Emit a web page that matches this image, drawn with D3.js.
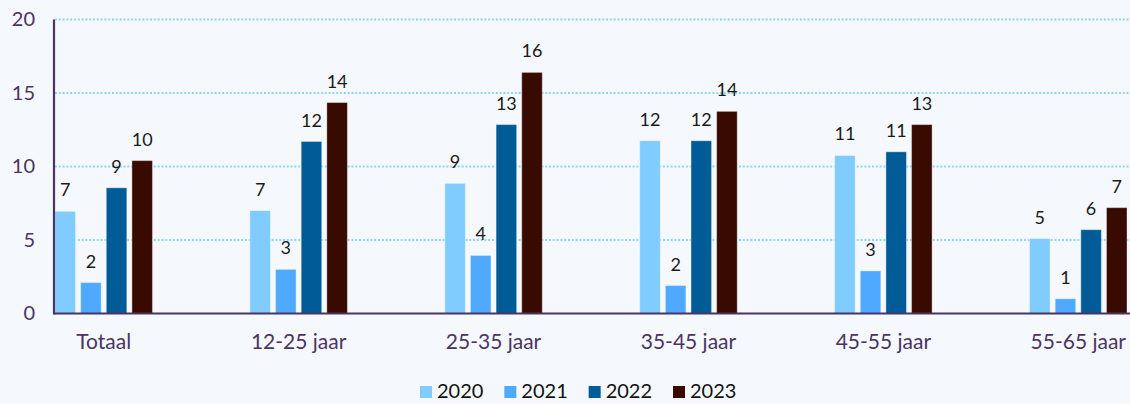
<!DOCTYPE html>
<html>
<head>
<meta charset="utf-8">
<script src="https://cdn.jsdelivr.net/npm/d3@7"></script>
<style>
  html, body { margin: 0; padding: 0; background: #f5f8fd; }
  svg { display: block; }
</style>
</head>
<body>
<svg id="chart" width="1130" height="404"></svg>
<script>
const categories = ["Totaal", "12-25 jaar", "25-35 jaar", "35-45 jaar", "45-55 jaar", "55-65 jaar"];
const seriesNames = ["2020", "2021", "2022", "2023"];
const values2020 = [6.95, 7.0, 8.85, 11.75, 10.75, 5.1];
const values2021 = [2.1, 3.0, 3.95, 1.9, 2.9, 1.0];
const values2022 = [8.55, 11.7, 12.85, 11.75, 11.0, 5.7];
const values2023 = [10.4, 14.35, 16.4, 13.75, 12.85, 7.2];
const yTicks = [0, 5, 10, 15, 20];
const colors = ["#80cbff", "#4fa9ff", "#005b96", "#380a00"];

const seriesValues = [values2020, values2021, values2022, values2023];

const svg = d3.select("#chart");
const W = 1130, H = 404;
svg.append("rect").attr("width", W).attr("height", H).attr("fill", "#f5f8fd");

const plotLeft = 55, plotRight = 1127, plotTop = 19.5, plotBottom = 313.5;

const x0 = d3.scaleBand().domain(categories).range([plotLeft, plotRight]).paddingInner(0.5).paddingOuter(0);
const x1 = d3.scaleBand().domain(seriesNames).range([0, x0.bandwidth()]).paddingInner(0.2).paddingOuter(0);
const y = d3.scaleLinear().domain([0, 20]).range([plotBottom, plotTop]);

// grid
const grid = svg.append("g");
grid.selectAll("line").data(yTicks.filter(d => d > 0)).join("line")
  .attr("x1", plotLeft).attr("x2", W)
  .attr("y1", d => y(d)).attr("y2", d => y(d))
  .attr("stroke", "#8dd5fa").attr("stroke-width", 2)
  .attr("stroke-dasharray", "2,1.8");

// y tick labels
const yAxis = d3.axisLeft(y).tickValues(yTicks).tickSize(0).tickPadding(0);
const yg = svg.append("g").attr("transform", `translate(35,0)`).call(yAxis);
yg.select(".domain").remove();
yg.selectAll("text").attr("font-family", "Lato, sans-serif").attr("font-size", 20)
  .attr("fill", "#4b3463");

// bars
const groups = svg.append("g").selectAll("g").data(categories).join("g")
  .attr("transform", d => `translate(${x0(d)},0)`);

groups.selectAll("rect").data((c, i) => seriesNames.map((s, j) => ({ s, j, v: seriesValues[j][i] })))
  .join("rect")
  .attr("x", d => x1(d.s))
  .attr("width", x1.bandwidth())
  .attr("y", d => y(d.v))
  .attr("height", d => y(0) - y(d.v))
  .attr("fill", d => colors[d.j])
  .attr("stroke", "rgba(255,255,255,0.35)")
  .attr("stroke-width", 1);

groups.selectAll("text").data((c, i) => seriesNames.map((s, j) => ({ s, j, v: seriesValues[j][i] })))
  .join("text")
  .attr("x", d => x1(d.s) + x1.bandwidth() / 2)
  .attr("y", d => y(d.v) - 15)
  .attr("text-anchor", "middle")
  .attr("font-family", "Lato, sans-serif")
  .attr("font-size", 18)
  .attr("fill", "#1a1a1a")
  .text(d => d3.format(".0f")(d.v));

// axes lines
const xAxis = d3.axisBottom(x0).tickSize(0).tickPadding(0);
const xg = svg.append("g").attr("transform", `translate(0,${plotBottom})`).call(xAxis);
xg.select(".domain").remove();
xg.selectAll("text").attr("font-family", "Lato, sans-serif").attr("font-size", 21)
  .attr("fill", "#4b3463").attr("dy", "0").attr("y", 35);

svg.append("line").attr("x1", plotLeft - 1).attr("x2", W).attr("y1", plotBottom).attr("y2", plotBottom)
  .attr("stroke", "#4b3463").attr("stroke-width", 2.2);
svg.append("line").attr("x1", plotLeft - 1).attr("x2", plotLeft - 1).attr("y1", plotTop).attr("y2", plotBottom + 1)
  .attr("stroke", "#4b3463").attr("stroke-width", 2.2);

// legend
const legendX = d3.scalePoint().domain(seriesNames).range([420, 673]);
const lg = svg.append("g").selectAll("g").data(seriesNames).join("g")
  .attr("transform", d => `translate(${legendX(d)},386)`);
lg.append("rect").attr("width", 12).attr("height", 12).attr("fill", (d, i) => colors[i]);
lg.append("text").attr("x", 17).attr("y", 12).attr("font-family", "Lato, sans-serif")
  .attr("font-size", 20).attr("fill", "#111").text(d => d);
</script>
</body>
</html>
